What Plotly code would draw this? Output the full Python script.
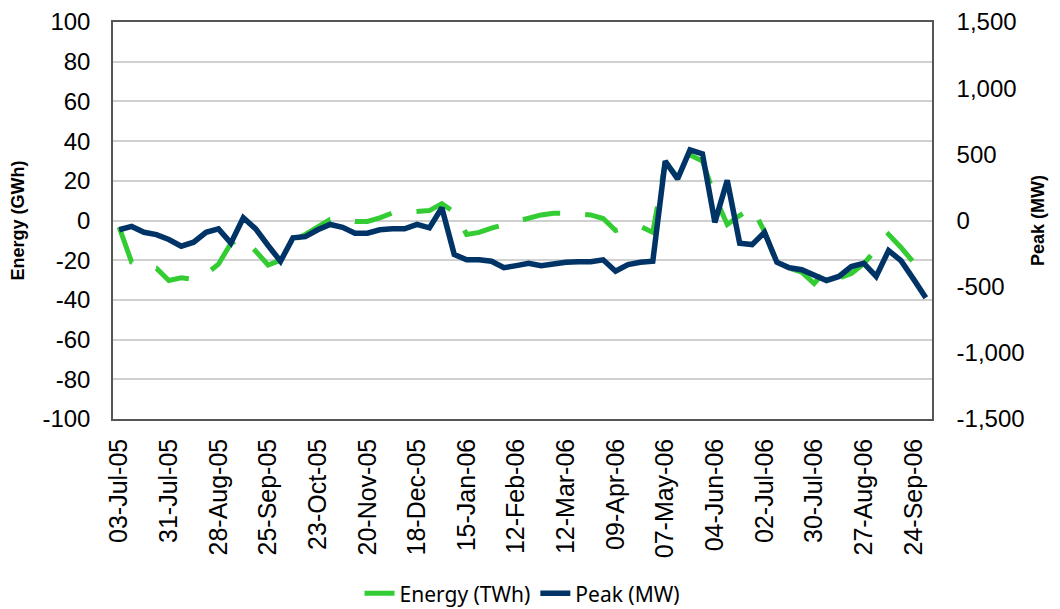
import pandas as pd
import plotly.graph_objects as go

# weekly categories, 03-Jul-05 .. 01-Oct-06
weeks = pd.date_range("2005-07-03", periods=66, freq="7D")
week_labels = [d.strftime("%d-%b-%y") for d in weeks]

# Energy (left axis, GWh)
energy = [
    -3.4, -21, -24, -24, -30.2, -28.9, -29.7, -27, -22, -11.5,
    -8.5, -15.8, -22.4, -20, -10, -7, -3, 0.5, 0.9, -0.5,
    -0.5, 1.3, 3.8, 4.2, 4.2, 5, 8.5, 4.2, -7, -6,
    -3.8, -2, -0.3, 1.5, 2.8, 3.7, 3.7, 3.3, 2.8, 1,
    -5, -3.4, -3, -6, 29, 22, 33, 30, 12, -2,
    2.5, 6.5, -5.5, -21.7, -24, -26, -31.7, -24.8, -29, -26.7,
    -21.8, -14, -7, -13.6, -21, -19.6,
]

# Peak (right axis, MW)
peak = [
    -70, -45, -89, -107, -144, -194, -164, -89, -63, -171,
    21, -63, -189, -308, -131, -122, -70, -30, -51, -96,
    -96, -70, -63, -63, -30, -56, 96, -257, -297, -297,
    -308, -357, -341, -323, -341, -323, -315, -311, -311, -297,
    -383, -333, -315, -308, 449, 315, 534, 504, -14, 303,
    -171, -182, -89, -315, -357, -372, -416, -453, -423, -348,
    -323, -423, -227, -303, -441, -584,
]

left_ticks = [-100, -80, -60, -40, -20, 0, 20, 40, 60, 80, 100]
right_ticks = [-1500, -1000, -500, 0, 500, 1000, 1500]

fig = go.Figure()

fig.add_trace(go.Scatter(
    x=week_labels, y=energy, name="Energy (TWh)", mode="lines",
    line=dict(color="#33CC33", width=5, dash="38px,25px"),
))
fig.add_trace(go.Scatter(
    x=week_labels, y=peak, name="Peak (MW)", mode="lines", yaxis="y2",
    line=dict(color="#003366", width=5.5),
))

# the page body adds an 8px offset, so the figure is 8px smaller each way
fig.update_layout(
    width=1052, height=601,
    margin=dict(l=105, r=128, t=14, b=190, autoexpand=False),
    paper_bgcolor="white", plot_bgcolor="white",
    font=dict(family="Liberation Sans, Arial", size=22, color="black"),
    showlegend=True,
    legend=dict(
        orientation="h", x=0.5, xanchor="center", y=-0.44, yanchor="middle",
        font=dict(family="Noto Sans", size=21),
    ),
    xaxis=dict(
        type="category", range=[-0.5, 65.5], automargin=False,
        tickvals=week_labels[::4], ticktext=week_labels[::4],
        tickangle=-90, tickfont=dict(size=25),
        showgrid=False, showline=True, linecolor="#555555", linewidth=1.5,
        mirror=True, ticks="", ticklabelstandoff=8,
    ),
    yaxis=dict(
        range=[-100, 100], tickvals=left_ticks, automargin=False,
        ticktext=[str(v) for v in left_ticks], tickfont=dict(size=24),
        showgrid=True, gridcolor="#D0D0D0", gridwidth=1.5,
        zeroline=False, showline=True, linecolor="#555555", linewidth=1.5,
        ticks="", ticklabelstandoff=16,
        title=dict(text="<b>Energy (GWh)</b>", font=dict(size=18), standoff=14),
    ),
    yaxis2=dict(
        range=[-1500, 1500], overlaying="y", side="right", automargin=False,
        tickvals=right_ticks, ticktext=[f"{v:,}" for v in right_ticks],
        tickfont=dict(size=24),
        showgrid=False, zeroline=False,
        showline=True, linecolor="#555555", linewidth=1.5,
        ticks="", ticklabelstandoff=18,
        title=dict(text="<b>Peak (MW)</b>", font=dict(size=18), standoff=8),
    ),
)

fig.write_html("out.html")
